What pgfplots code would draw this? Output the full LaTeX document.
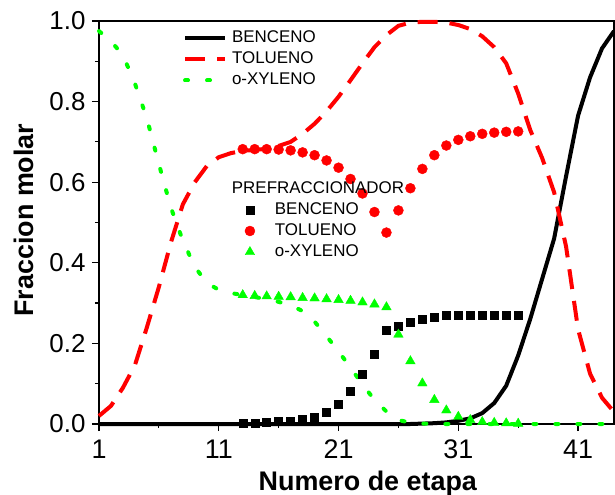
\documentclass[border=0pt]{standalone}
\usepackage{fontspec}
\setmainfont{Liberation Sans}
\usepackage{pgfplots}
\pgfplotsset{compat=1.18}
\definecolor{myred}{rgb}{1,0,0}
\definecolor{mygreen}{rgb}{0,1,0}

\begin{document}
\begin{tikzpicture}
\pgfplotsset{common/.style={
  scale only axis, width=515bp, height=403bp, at={(0,0)}, anchor=south west,
  xmin=1, xmax=44, ymin=0, ymax=1, clip=false,
}}

\begin{axis}[common,
  axis line style={line width=1.2bp},
  tick align=outside, xtick pos=left, ytick pos=left,
  xtick={1,11,21,31,41}, ytick={0,0.2,0.4,0.6,0.8,1},
  minor x tick num=1, minor y tick num=1,
  major tick length=7bp, minor tick length=4bp,
  every tick/.style={line width=1.2bp, black},
  xticklabel style={font=\fontsize{27}{27}\selectfont, yshift=-5bp},
  yticklabel style={font=\fontsize{26}{26}\selectfont, xshift=-3bp, /pgf/number format/fixed, /pgf/number format/precision=1, /pgf/number format/fixed zerofill},
  /pgf/number format/assume math mode=true,
  xlabel={Numero de etapa}, ylabel={Fraccion molar},
  label style={font=\fontsize{27}{27}\selectfont\bfseries},
  xlabel style={at={(axis description cs:0.522,-0.164)}, anchor=base},
  ylabel style={at={(axis description cs:-0.128,0.506)}, anchor=base},
  legend style={at={(axis cs:8,0.977)}, anchor=north west, draw=none, fill=none,
    inner sep=0pt, font=\fontsize{17}{17}\selectfont, row sep=5bp, column sep=5bp,
    nodes={inner sep=0pt, text height=12.5bp, text depth=3.5bp}, cells={anchor=west}},
  legend image code/.code={\draw[#1] (0bp,0bp) -- (40bp,0bp);},
]
\addplot[black, line width=4bp] coordinates {
(1,0) (2,0) (3,0) (4,0) (5,0) (6,0) (7,0) (8,0) (9,0) (10,0) (11,0) (12,0) (13,0) (14,0)
(15,0) (16,0) (17,0) (18,0) (19,0) (20,0) (21,0) (22,0) (23,0) (24,0) (25,0) (26,0) (27,0)
(28,0.001) (29,0.002) (30,0.004) (31,0.008) (32,0.014) (33,0.027) (34,0.052) (35,0.095)
(36,0.17) (37,0.26) (38,0.36) (39,0.46) (40,0.615) (41,0.765) (42,0.86) (43,0.932) (44,0.975)};
\addlegendentry{BENCENO}
\addplot[myred, line width=4bp, dash pattern=on 20bp off 12bp] coordinates {
(1,0.02) (2,0.045) (3,0.09) (4,0.146) (5,0.24) (6,0.34) (7,0.45) (8,0.545) (9,0.60) (10,0.64)
(11,0.662) (12,0.672) (13,0.678) (14,0.68) (15,0.683) (16,0.69) (17,0.70) (18,0.72) (19,0.745)
(20,0.776) (21,0.812) (22,0.853) (23,0.895) (24,0.935) (25,0.965) (26,0.988) (27,0.996)
(28,0.998) (29,0.998) (30,0.996) (31,0.99) (32,0.98) (33,0.962) (34,0.935) (35,0.895)
(36,0.82) (37,0.73) (38,0.66) (39,0.575) (40,0.44) (41,0.235) (42,0.125) (43,0.065) (44,0.03)};
\addlegendentry{TOLUENO}
\addplot[mygreen, line width=4bp, line cap=round, dash pattern=on 3bp off 19bp] coordinates {
(1,0.975) (2,0.95) (3,0.915) (4,0.845) (5,0.758) (6,0.645) (7,0.537) (8,0.455) (9,0.39)
(10,0.35) (11,0.333) (12,0.325) (13,0.32) (14,0.315) (15,0.31) (16,0.303) (17,0.295)
(18,0.28) (19,0.254) (20,0.218) (21,0.18) (22,0.14) (23,0.098) (24,0.06) (25,0.031)
(26,0.01) (27,0.003) (28,0.001) (29,0) (30,0) (31,0) (32,0) (33,0) (34,0) (35,0) (36,0)
(37,0) (38,0) (39,0) (40,0) (41,0) (42,0) (43,0) (44,0)};
\addlegendentry{o-XYLENO}
\end{axis}

\begin{axis}[common, hide axis,
  legend style={at={(axis cs:12.75,0.6035)}, anchor=north west, draw=none, fill=none,
    inner sep=0pt, font=\fontsize{17}{17}\selectfont, row sep=5bp, column sep=15bp,
    nodes={inner sep=0pt, text height=12.5bp, text depth=3.5bp}, cells={anchor=west}},
  legend image code/.code={\path[draw=none,fill=none] (-10bp,-5bp) rectangle (10bp,5bp);
    \draw[mark repeat=2,mark phase=2,#1] plot coordinates {(-10bp,0bp) (0bp,0bp) (10bp,0bp)};},
]
\addlegendimage{empty legend}
\addlegendentry{\hspace{-43bp}PREFRACCIONADOR}
\addplot[only marks, mark=square*, mark size=4bp, black] coordinates {
(13,0.002) (14,0.003) (15,0.004) (16,0.006) (17,0.008) (18,0.011) (19,0.018) (20,0.030)
(21,0.050) (22,0.081) (23,0.124) (24,0.174) (25,0.232) (26,0.242) (27,0.253) (28,0.261)
(29,0.266) (30,0.270) (31,0.271) (32,0.271) (33,0.271) (34,0.271) (35,0.271) (36,0.271)};
\addlegendentry{BENCENO}
\addplot[only marks, mark=*, mark size=5bp, myred] coordinates {
(13,0.682) (14,0.682) (15,0.682) (16,0.681) (17,0.679) (18,0.674) (19,0.667) (20,0.654)
(21,0.636) (22,0.608) (23,0.572) (24,0.526) (25,0.475) (26,0.530) (27,0.585) (28,0.633)
(29,0.667) (30,0.691) (31,0.705) (32,0.714) (33,0.720) (34,0.723) (35,0.725) (36,0.726)};
\addlegendentry{TOLUENO}
\addplot[only marks, mark=triangle*, mark size=5.5bp, mygreen] coordinates {
(13,0.320) (14,0.318) (15,0.317) (16,0.316) (17,0.315) (18,0.313) (19,0.312) (20,0.310)
(21,0.308) (22,0.306) (23,0.302) (24,0.297) (25,0.290) (26,0.222) (27,0.156) (28,0.101)
(29,0.060) (30,0.034) (31,0.018) (32,0.010) (33,0.005) (34,0.003) (35,0.002) (36,0.001)};
\addlegendentry{o-XYLENO}
\end{axis}
\pgfresetboundingbox
\useasboundingbox (-99bp,-71bp) rectangle (516bp,424bp);
\end{tikzpicture}
\end{document}
